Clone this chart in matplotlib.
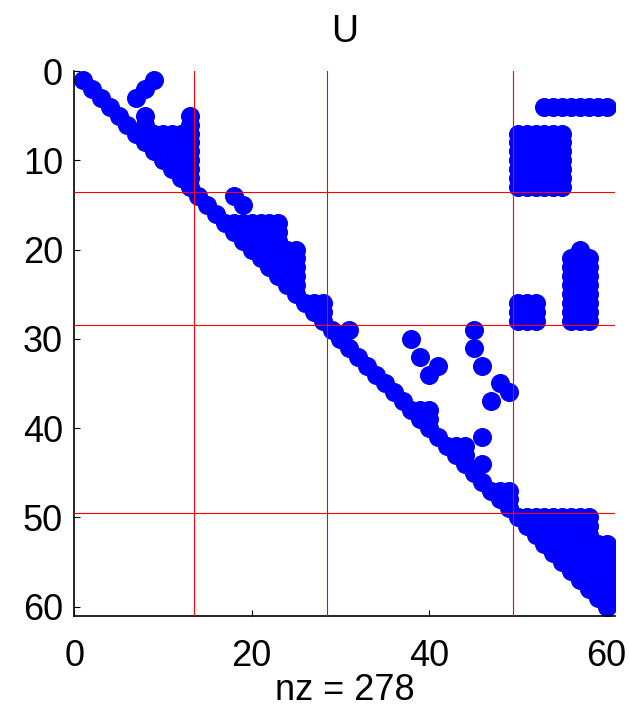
import matplotlib
matplotlib.use("Agg")
import matplotlib.pyplot as plt

plt.rcParams['font.family'] = ['Liberation Sans', 'DejaVu Sans']

# Sparsity pattern of U, stored as horizontal runs of nonzeros:
# run k covers row seg_row[k], columns seg_first[k]..seg_last[k]
seg_row = [1, 1, 2, 2, 3, 3, 4, 4,
           5, 5, 5, 6, 6, 6,
           7, 7, 8, 8, 9, 9, 10, 10, 11, 11, 12, 12, 13, 13,
           14, 14, 15, 15, 16,
           17, 18, 19,
           20, 20, 21, 21, 22, 22, 23, 23, 24, 24, 25, 25,
           26, 26, 26, 27, 27, 27, 28, 28, 28,
           29, 29, 29, 30, 30, 31, 31, 32, 32, 33, 33, 33,
           34, 34, 35, 35, 36, 36, 37, 37,
           38, 39, 40, 41, 41, 42, 43, 44, 44, 45, 46,
           47, 48, 49,
           50, 51, 52, 53, 54, 55, 56, 57, 58, 59, 60]
seg_first = [1, 9, 2, 8, 3, 7, 4, 53,
             5, 8, 13, 6, 8, 13,
             7, 50, 8, 50, 9, 50, 10, 50, 11, 50, 12, 50, 13, 50,
             14, 18, 15, 19, 16,
             17, 18, 19,
             20, 57, 21, 56, 22, 56, 23, 56, 24, 56, 25, 56,
             26, 50, 56, 27, 50, 56, 28, 50, 56,
             29, 31, 45, 30, 38, 31, 45, 32, 39, 33, 41, 46,
             34, 40, 35, 48, 36, 49, 37, 47,
             38, 39, 40, 41, 46, 42, 43, 44, 46, 45, 46,
             47, 48, 49,
             50, 51, 52, 53, 54, 55, 56, 57, 58, 59, 60]
seg_last = [1, 9, 2, 8, 3, 7, 4, 60,
            5, 8, 13, 6, 8, 13,
            13, 55, 13, 55, 13, 55, 13, 55, 13, 55, 13, 55, 13, 55,
            14, 18, 15, 19, 16,
            23, 23, 23,
            25, 57, 25, 58, 25, 58, 25, 58, 25, 58, 25, 58,
            28, 52, 58, 28, 52, 58, 28, 52, 58,
            29, 31, 45, 30, 38, 31, 45, 32, 39, 33, 41, 46,
            34, 40, 35, 48, 36, 49, 37, 47,
            40, 40, 40, 41, 46, 44, 44, 44, 46, 45, 46,
            49, 49, 49,
            58, 58, 58, 60, 60, 60, 60, 60, 60, 60, 60]

# block partition boundaries
part_lines = [13.5, 28.5, 49.5]
n = 60

rows = []
cols = []
for r, c0, c1 in zip(seg_row, seg_first, seg_last):
    for c in range(c0, c1 + 1):
        rows.append(r)
        cols.append(c)
nz = len(rows)

fig = plt.figure(figsize=(6.29, 7.13), dpi=100)
ax = fig.add_axes([0.118, 0.1367, 0.8605, 0.7637])

ax.plot(cols, rows, 'o', color='#0000ff', markersize=13.7,
        markeredgewidth=0, linestyle='none', zorder=2)

for p in part_lines:
    ax.axvline(p, color='#ff0000', linewidth=0.8, zorder=3)
    ax.axhline(p, color='#ff0000', linewidth=0.8, zorder=3)

ax.set_xlim(0, n + 1)
ax.set_ylim(n + 1, 0)
ax.set_xticks([0, 20, 40, 60])
ax.set_yticks([0, 10, 20, 30, 40, 50, 60])
ax.tick_params(direction='in', length=4, width=0.8, labelsize=26)
ax.tick_params(axis='x', pad=17)
ax.tick_params(axis='y', pad=8)
for side in ['top', 'right']:
    ax.spines[side].set_visible(False)
for side in ['left', 'bottom']:
    ax.spines[side].set_linewidth(1.2)

ax.set_title('U', fontsize=27, pad=21)
ax.set_xlabel(f'nz = {nz}', fontsize=26, labelpad=-1)

fig.savefig('out.png', dpi=100)
